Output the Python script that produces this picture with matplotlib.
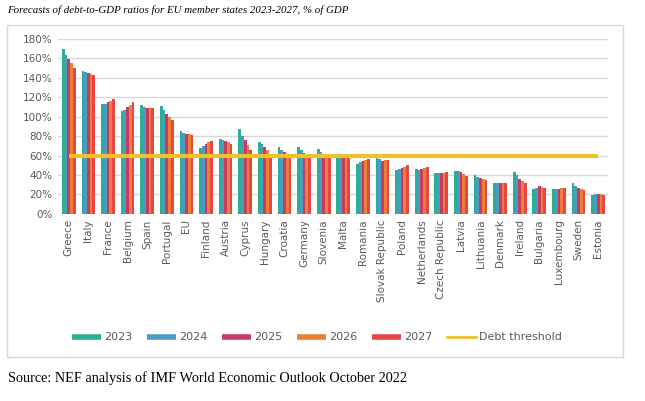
import matplotlib.pyplot as plt
from matplotlib.lines import Line2D
from matplotlib.patches import Rectangle
import numpy as np

# data (% of GDP)
countries = ['Greece', 'Italy', 'France', 'Belgium', 'Spain', 'Portugal', 'EU', 'Finland',
             'Austria', 'Cyprus', 'Hungary', 'Croatia', 'Germany', 'Slovenia', 'Malta',
             'Romania', 'Slovak Republic', 'Poland', 'Netherlands', 'Czech Republic',
             'Latvia', 'Lithuania', 'Denmark', 'Ireland', 'Bulgaria', 'Luxembourg',
             'Sweden', 'Estonia']
years = ['2023', '2024', '2025', '2026', '2027']
y2023 = [170, 147.5, 112.7, 105.4, 112, 111.3, 85, 67.5, 77, 87.5, 74, 68.5, 68.5, 66.5,
         58.5, 51.5, 57.5, 45, 46.5, 41.5, 44.5, 39.5, 32, 43, 25, 26, 31.5, 19.5]
y2024 = [164, 146.5, 113.4, 107.2, 110.3, 106.5, 83.5, 69.5, 75.5, 80.5, 72, 66, 65.5, 63.5,
         58.5, 53, 56.5, 46, 45.5, 41.5, 44, 38, 31.5, 39.5, 26.5, 26, 28.5, 20.5]
y2025 = [159.5, 145, 115, 109.6, 109, 103, 82.5, 71.5, 74.5, 76, 69, 63.5, 63, 61.5,
         58.5, 54.5, 54.5, 47, 46.5, 41.7, 43, 36.5, 31.5, 36, 28.5, 26, 26.5, 20.5]
y2026 = [155, 144, 116.5, 112.3, 109, 99.6, 82, 73.5, 73.5, 71, 65.5, 62, 61, 60,
         58.5, 55.5, 55, 48.5, 47.5, 42, 41, 35.5, 31.5, 34, 27.5, 26.2, 25, 20.3]
y2027 = [150, 142.5, 118.5, 115, 109, 96.8, 81.3, 75, 72, 66, 61.5, 60.5, 59.5, 59.5,
         58.5, 56.5, 55.5, 50, 48, 43, 39.3, 34.5, 31.5, 31.5, 26.5, 26.2, 24, 19.8]
debt_threshold = 60

colors = ['#2aae94', '#4a9dc0', '#c93a63', '#ea7f36', '#e84545']
thr_color = '#efc12a'

fig = plt.figure(figsize=(6.45, 4.01), dpi=100)
ax = fig.add_axes([0.0899, 0.467, 0.8527, 0.4356])

x = np.arange(len(countries))
w = 0.14
series = [y2023, y2024, y2025, y2026, y2027]
for i, vals in enumerate(series):
    ax.bar(x + (i - 2) * w, vals, width=w, color=colors[i], zorder=2)

ax.plot(x, [debt_threshold] * len(countries), color=thr_color, lw=3, zorder=3,
        solid_capstyle='butt')

ax.set_ylim(0, 180)
ax.set_xlim(-0.55, len(countries) - 0.5)
ax.set_yticks(range(0, 181, 20))
ax.set_yticklabels([f'{v}%' for v in range(0, 181, 20)])
ax.set_xticks(x)
ax.set_xticklabels(countries, rotation=90)
ax.tick_params(length=0, labelsize=7.5, colors='#595959', pad=4)
ax.grid(axis='y', color='#d9d9d9', lw=1, zorder=0)
ax.set_axisbelow(True)
for s in ax.spines.values():
    s.set_visible(False)

handles = [Line2D([0], [0], color=c, lw=4, solid_capstyle='butt') for c in colors]
handles.append(Line2D([0], [0], color=thr_color, lw=2))
fig.legend(handles, years + ['Debt threshold'], loc='center', bbox_to_anchor=(0.492, 1 - 337.5 / 401),
           ncol=6, frameon=False, fontsize=8, handlelength=2.6, handletextpad=0.3,
           columnspacing=1.3, labelcolor='#595959')

# outer frame
fig.patches.append(Rectangle((7 / 645, 1 - 357 / 401), 616 / 645, 332 / 401,
                             transform=fig.transFigure, fill=False, edgecolor='#d9d9d9', lw=1))

fig.text(7 / 645, 1 - 10 / 401, 'Forecasts of debt-to-GDP ratios for EU member states 2023-2027, % of GDP',
         family='Liberation Serif', style='italic', fontsize=7.8, va='center', ha='left')
fig.text(8 / 645, 1 - 378 / 401, 'Source: NEF analysis of IMF World Economic Outlook October 2022',
         family='Liberation Serif', fontsize=10.3, va='center', ha='left')

fig.savefig('out.png', dpi=100)
